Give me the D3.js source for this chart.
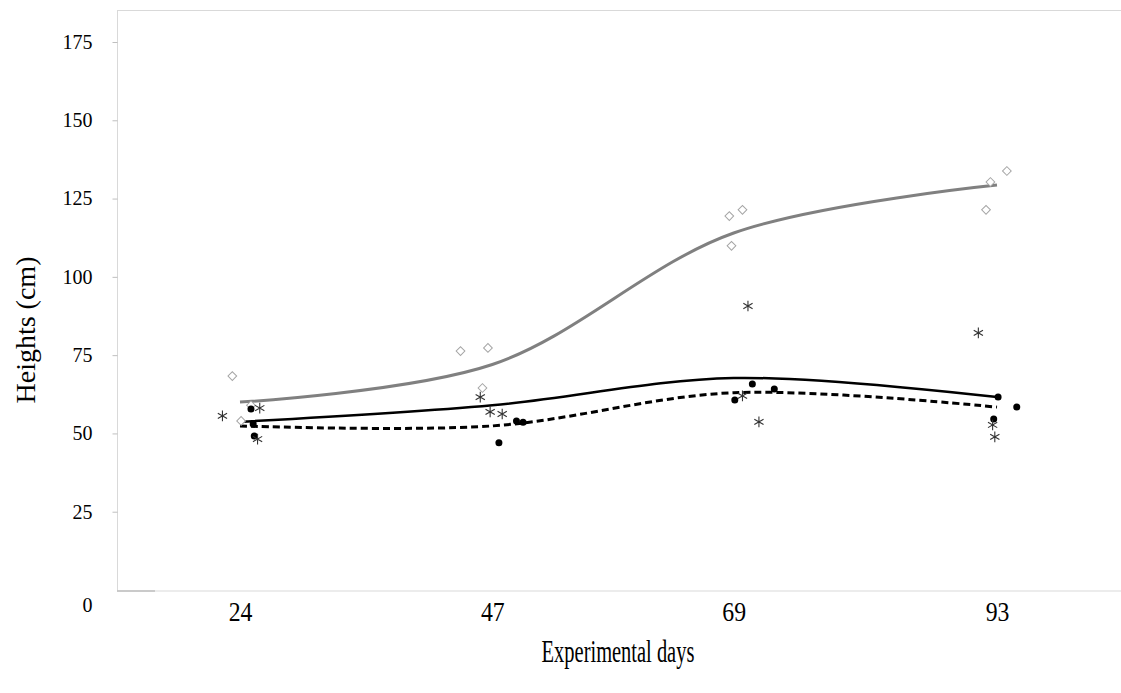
<!DOCTYPE html>
<html>
<head>
<meta charset="utf-8">
<script src="https://cdn.jsdelivr.net/npm/d3@7"></script>
<style>
  body { margin: 0; background: #fff; }
  text { font-family: "Liberation Serif", "Times New Roman", serif; fill: #000; }
</style>
</head>
<body>
<div id="chart"></div>
<script>
// sampling days and fitted means (smoothed lines)
var days = [24, 47, 69, 93];
var greyMean = [60, 72, 114, 129.3];
var solidMean = [53.7, 59, 67.7, 61.6];
var dashMean = [52.4, 52.4, 63, 58.4];

// individual plants: [day, height]
var diamonds = [
  [23.3, 68.3], [24.1, 54], [25.0, 59],
  [44.1, 76.3], [46.6, 77.3], [46.1, 64.5],
  [68.6, 119.4], [69.8, 121.4], [68.8, 109.9],
  [92.4, 130.3], [93.9, 133.8], [92.0, 121.4]
];
var dots = [
  [25.0, 57.8], [25.2, 53], [25.3, 49.2],
  [47.6, 47], [49.2, 54], [49.8, 53.6],
  [70.7, 65.8], [72.7, 64.2], [69.1, 60.7],
  [93.1, 61.6], [94.8, 58.4], [92.7, 54.6]
];
var stars = [
  [22.4, 55.6], [25.8, 58.1], [25.6, 48.2],
  [45.9, 61.6], [46.8, 56.9], [47.9, 56.2],
  [70.3, 90.7], [69.8, 62], [71.3, 53.7],
  [91.3, 82.1], [92.6, 52.7], [92.8, 48.9]
];
var yTicks = [0, 25, 50, 75, 100, 125, 150, 175];

var width = 1121, height = 693;
var serif = '"Liberation Serif", "Times New Roman", serif';
var svg = d3.select('#chart').append('svg')
    .attr('width', width)
    .attr('height', height);

var x = d3.scaleLinear().domain([24, 93]).range([240, 997]);
var y = d3.scaleLinear().domain([0, 175]).range([590, 42]);

// plot frame
svg.append('rect')
    .attr('x', 117.5).attr('y', 10.5)
    .attr('width', 1010).attr('height', 580.5)
    .attr('fill', 'none')
    .attr('stroke', '#d9d9d9');
svg.append('line')
    .attr('x1', 117).attr('x2', 155)
    .attr('y1', 591).attr('y2', 591)
    .attr('stroke', '#bfbfbf').attr('stroke-width', 1.5);

// y axis
var yAxis = svg.append('g')
    .attr('transform', 'translate(117.5,0)')
    .call(d3.axisLeft(y).tickValues(yTicks).tickSize(5).tickPadding(20))
    .attr('font-family', serif)
    .attr('font-size', 20);
yAxis.select('.domain').remove();
yAxis.selectAll('line').attr('stroke', '#bfbfbf');
yAxis.selectAll('text').attr('fill', '#000');
yAxis.selectAll('.tick').filter(d => d === 0).select('text').attr('dy', '1.05em');
yAxis.selectAll('.tick').filter(d => d === 0).select('line').remove();

// x axis labels
var xAxis = svg.append('g')
    .attr('transform', 'translate(0,602)')
    .call(d3.axisBottom(x).tickValues(days).tickSize(0).tickPadding(0))
    .attr('font-family', serif)
    .attr('font-size', 27);
xAxis.select('.domain').remove();
xAxis.selectAll('text')
    .attr('fill', '#000')
    .attr('transform', 'scale(0.88,1)');

// titles
svg.append('text')
    .attr('transform', 'translate(618,662) scale(0.66,1)')
    .attr('text-anchor', 'middle')
    .style('font-size', '31px')
    .text('Experimental days');
svg.append('text')
    .attr('transform', 'translate(35,330) rotate(-90)')
    .attr('text-anchor', 'middle')
    .style('font-size', '28px')
    .text('Heights (cm)');

// smoothed lines
var line = d3.line()
    .x(d => x(d[0]))
    .y(d => y(d[1]))
    .curve(d3.curveCatmullRom.alpha(0.5));

svg.append('path')
    .datum(d3.zip(days, greyMean))
    .attr('d', line)
    .attr('fill', 'none')
    .attr('stroke', '#808080')
    .attr('stroke-width', 3);

svg.append('path')
    .datum(d3.zip(days, solidMean))
    .attr('d', line)
    .attr('fill', 'none')
    .attr('stroke', '#000')
    .attr('stroke-width', 2.5);

svg.append('path')
    .datum(d3.zip(days, dashMean))
    .attr('d', line)
    .attr('fill', 'none')
    .attr('stroke', '#000')
    .attr('stroke-width', 3)
    .attr('stroke-dasharray', '7,4');

// markers
svg.selectAll('.diamond')
    .data(diamonds)
    .enter()
    .append('path')
    .attr('class', 'diamond')
    .attr('d', d3.symbol().type(d3.symbolSquare).size(38))
    .attr('transform', d => 'translate(' + x(d[0]) + ',' + y(d[1]) + ') rotate(45)')
    .attr('fill', '#fff')
    .attr('stroke', '#a6a6a6')
    .attr('stroke-width', 1);

svg.selectAll('.dot')
    .data(dots)
    .enter()
    .append('circle')
    .attr('class', 'dot')
    .attr('cx', d => x(d[0]))
    .attr('cy', d => y(d[1]))
    .attr('r', 3.5)
    .attr('fill', '#000');

svg.selectAll('.star')
    .data(stars)
    .enter()
    .append('path')
    .attr('class', 'star')
    .attr('d', d3.symbol().type(d3.symbolAsterisk).size(80))
    .attr('transform', d => 'translate(' + x(d[0]) + ',' + y(d[1]) + ')')
    .attr('fill', 'none')
    .attr('stroke', '#333')
    .attr('stroke-width', 1.1);
</script>
</body>
</html>
